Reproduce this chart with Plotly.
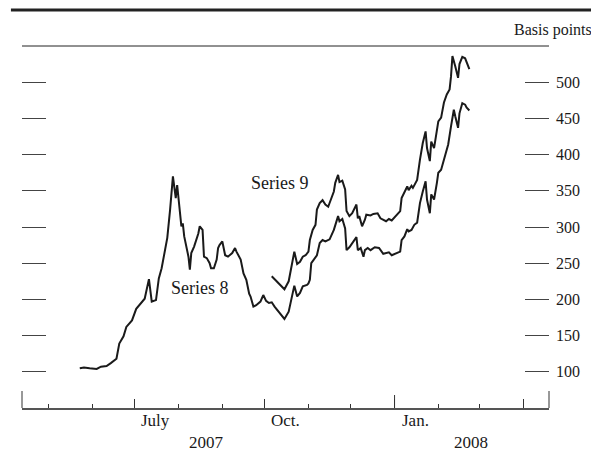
import plotly.graph_objects as go

# ---- data (basis points) ----
s8_dates = ["2007-05-23","2007-05-26","2007-05-30","2007-06-04","2007-06-07","2007-06-11","2007-06-14",
            "2007-06-18","2007-06-20","2007-06-23","2007-06-25","2007-06-27","2007-06-29","2007-07-02",
            "2007-07-05","2007-07-08","2007-07-11","2007-07-13","2007-07-16","2007-07-18","2007-07-20",
            "2007-07-23","2007-07-24","2007-07-26","2007-07-28","2007-07-30","2007-07-31","2007-08-03",
            "2007-08-04","2007-08-05","2007-08-08","2007-08-09","2007-08-10","2007-08-12","2007-08-15",
            "2007-08-16","2007-08-18","2007-08-19","2007-08-21","2007-08-23","2007-08-24","2007-08-26",
            "2007-08-28","2007-08-29","2007-08-30","2007-09-01","2007-09-02","2007-09-03","2007-09-05",
            "2007-09-06","2007-09-08","2007-09-10","2007-09-11","2007-09-14","2007-09-16","2007-09-18",
            "2007-09-20","2007-09-21","2007-09-22","2007-09-23","2007-09-25","2007-09-27","2007-09-28",
            "2007-09-30","2007-10-02","2007-10-04","2007-10-06","2007-10-08","2007-10-11","2007-10-13",
            "2007-10-15","2007-10-18","2007-10-20","2007-10-22","2007-10-24","2007-10-26","2007-10-28",
            "2007-10-31","2007-11-01","2007-11-02","2007-11-03","2007-11-05","2007-11-07","2007-11-09",
            "2007-11-11","2007-11-13","2007-11-16","2007-11-19","2007-11-22","2007-11-23","2007-11-25",
            "2007-11-27","2007-11-28","2007-11-30","2007-12-03","2007-12-05","2007-12-06","2007-12-08",
            "2007-12-10","2007-12-11","2007-12-13","2007-12-15","2007-12-18","2007-12-21","2007-12-24",
            "2007-12-28","2007-12-30","2008-01-02","2008-01-05","2008-01-06","2008-01-08","2008-01-10",
            "2008-01-11","2008-01-13","2008-01-15","2008-01-17","2008-01-19","2008-01-21","2008-01-23",
            "2008-01-24","2008-01-26","2008-01-27","2008-01-29","2008-01-31","2008-02-01","2008-02-03",
            "2008-02-06","2008-02-08","2008-02-10","2008-02-12","2008-02-13","2008-02-15","2008-02-16",
            "2008-02-18","2008-02-20","2008-02-21","2008-02-23"]
s8_values = [105, 106, 105, 104, 107, 108, 112,
             118, 139, 149, 162, 167, 171, 187,
             194, 201, 228, 197, 199, 229, 243,
             278, 285, 324, 370, 340, 358, 301,
             305, 287, 259, 241, 264, 273, 291,
             301, 296, 259, 257, 250, 243, 243,
             255, 271, 275, 280, 268, 261, 259,
             261, 264, 271, 266, 255, 236, 227,
             208, 204, 197, 190, 192, 195, 197,
             206, 198, 195, 196, 190, 183, 178,
             173, 183, 199, 219, 204, 209, 218,
             220, 222, 227, 250, 255, 261, 278,
             282, 280, 283, 296, 315, 308, 311,
             298, 268, 272, 280, 286, 268, 271,
             259, 268, 271, 268, 272, 271, 263,
             265, 261, 263, 266, 282, 287, 297,
             294, 296, 303, 306, 333, 349, 363,
             338, 319, 345, 338, 361, 375, 379,
             402, 414, 439, 462, 453, 437, 457,
             471, 469, 465, 461]

s9_dates = ["2007-10-06","2007-10-08","2007-10-11","2007-10-13","2007-10-15","2007-10-18","2007-10-20",
            "2007-10-22","2007-10-24","2007-10-26","2007-10-28","2007-10-30","2007-11-01","2007-11-02",
            "2007-11-04","2007-11-06","2007-11-07","2007-11-09","2007-11-11","2007-11-13","2007-11-15",
            "2007-11-17","2007-11-19","2007-11-20","2007-11-22","2007-11-23","2007-11-25","2007-11-27",
            "2007-11-28","2007-11-30","2007-12-02","2007-12-05","2007-12-06","2007-12-07","2007-12-09",
            "2007-12-11","2007-12-12","2007-12-15","2007-12-17","2007-12-20","2007-12-22","2007-12-26",
            "2007-12-28","2007-12-30","2008-01-02","2008-01-05","2008-01-06","2008-01-08","2008-01-10",
            "2008-01-11","2008-01-13","2008-01-14","2008-01-17","2008-01-19","2008-01-21","2008-01-23",
            "2008-01-24","2008-01-26","2008-01-27","2008-01-29","2008-01-31","2008-02-01","2008-02-03",
            "2008-02-05","2008-02-07","2008-02-09","2008-02-10","2008-02-11","2008-02-13","2008-02-15",
            "2008-02-16","2008-02-18","2008-02-20","2008-02-21","2008-02-23"]
s9_values = [232, 228, 222, 218, 214, 225, 245,
             266, 249, 252, 259, 261, 266, 282,
             296, 303, 324, 333, 337, 331, 328,
             338, 349, 361, 372, 362, 364, 352,
             322, 315, 319, 331, 312, 315, 301,
             310, 317, 316, 318, 319, 312, 308,
             311, 309, 315, 322, 340, 347, 356,
             351, 357, 354, 365, 393, 416, 432,
             409, 391, 418, 409, 430, 446, 451,
             472, 483, 490, 508, 536, 522, 506,
             525, 535, 533, 528, 518]

y_ticks = [100, 150, 200, 250, 300, 350, 400, 450, 500]
month_labels = ["July", "Oct.", "Jan."]
month_label_dates = ["2007-07-16", "2007-10-16", "2008-01-16"]
year_labels = ["2007", "2008"]
year_label_dates = ["2007-08-21", "2008-02-24"]

FONT = "Liberation Serif, Times New Roman, serif"
INK = "#1a1a1a"
PH = 362  # plot height in px

fig = go.Figure()
fig.add_trace(go.Scatter(x=s8_dates, y=s8_values, mode="lines", name="Series 8",
                         line=dict(color=INK, width=2), showlegend=False))
fig.add_trace(go.Scatter(x=s9_dates, y=s9_values, mode="lines", name="Series 9",
                         line=dict(color=INK, width=2), showlegend=False))

fig.update_layout(
    width=591, height=443,
    margin=dict(l=14, r=50, t=38, b=43),
    paper_bgcolor="white", plot_bgcolor="white",
    font=dict(family=FONT, size=16, color=INK),
    xaxis=dict(
        type="date", range=["2007-04-12 02:00", "2008-04-19 10:00"],
        showgrid=False, zeroline=False,
        showline=True, linecolor="#555", linewidth=1.5,
        ticks="inside", ticklen=9, tickcolor="#333", tickwidth=1,
        tick0="2007-07-01", dtick="M3", showticklabels=False,
        minor=dict(ticks="inside", ticklen=4, tickcolor="#333", tickwidth=1,
                   dtick="M1", tick0="2007-05-01", showgrid=False),
    ),
    yaxis=dict(
        range=[50, 550], side="right", showgrid=False, zeroline=False,
        showline=False, ticks="inside", ticklen=24, tickcolor="#444", tickwidth=1.2,
        mirror="ticks", tickvals=y_ticks, ticktext=[str(v) for v in y_ticks],
        tickfont=dict(size=16, family=FONT, color=INK), ticklabelstandoff=6,
    ),
)

# decorative frame lines
fig.add_shape(type="line", xref="paper", yref="paper", x0=-0.021, x1=1.095, y0=1 + 36 / PH, y1=1 + 36 / PH,
              line=dict(color="#222", width=3))
fig.add_shape(type="line", xref="paper", yref="paper", x0=0, x1=1, y0=1, y1=1,
              line=dict(color="#222", width=1))
# axis end ticks and year tick
for xv, ln in [(0, 17), (1, 17)]:
    fig.add_shape(type="line", xref="paper", yref="paper", x0=xv, x1=xv, y0=0, y1=ln / PH,
                  line=dict(color="#333", width=1))
fig.add_shape(type="line", xref="x", yref="paper", x0="2008-01-01", x1="2008-01-01", y0=0, y1=13 / PH,
              line=dict(color="#333", width=1))

for t, d in zip(month_labels, month_label_dates):
    fig.add_annotation(x=d, y=0, xref="x", yref="paper", text=t, showarrow=False,
                       yanchor="middle", yshift=-12, font=dict(size=17, family=FONT, color=INK))
for t, d in zip(year_labels, year_label_dates):
    fig.add_annotation(x=d, y=0, xref="x", yref="paper", text=t, showarrow=False,
                       yanchor="middle", yshift=-34, font=dict(size=17, family=FONT, color=INK))

fig.add_annotation(x=1 + 45 / 527, y=1 + 16 / PH, xref="paper", yref="paper", text="Basis points",
                   showarrow=False, xanchor="right", yanchor="middle",
                   font=dict(size=16, family=FONT, color=INK))
fig.add_annotation(x="2007-08-16", y=216, text="Series 8", showarrow=False,
                   font=dict(size=18, family=FONT, color=INK))
fig.add_annotation(x="2007-10-12", y=361, text="Series 9", showarrow=False,
                   font=dict(size=18, family=FONT, color=INK))

fig.write_html("out.html")
